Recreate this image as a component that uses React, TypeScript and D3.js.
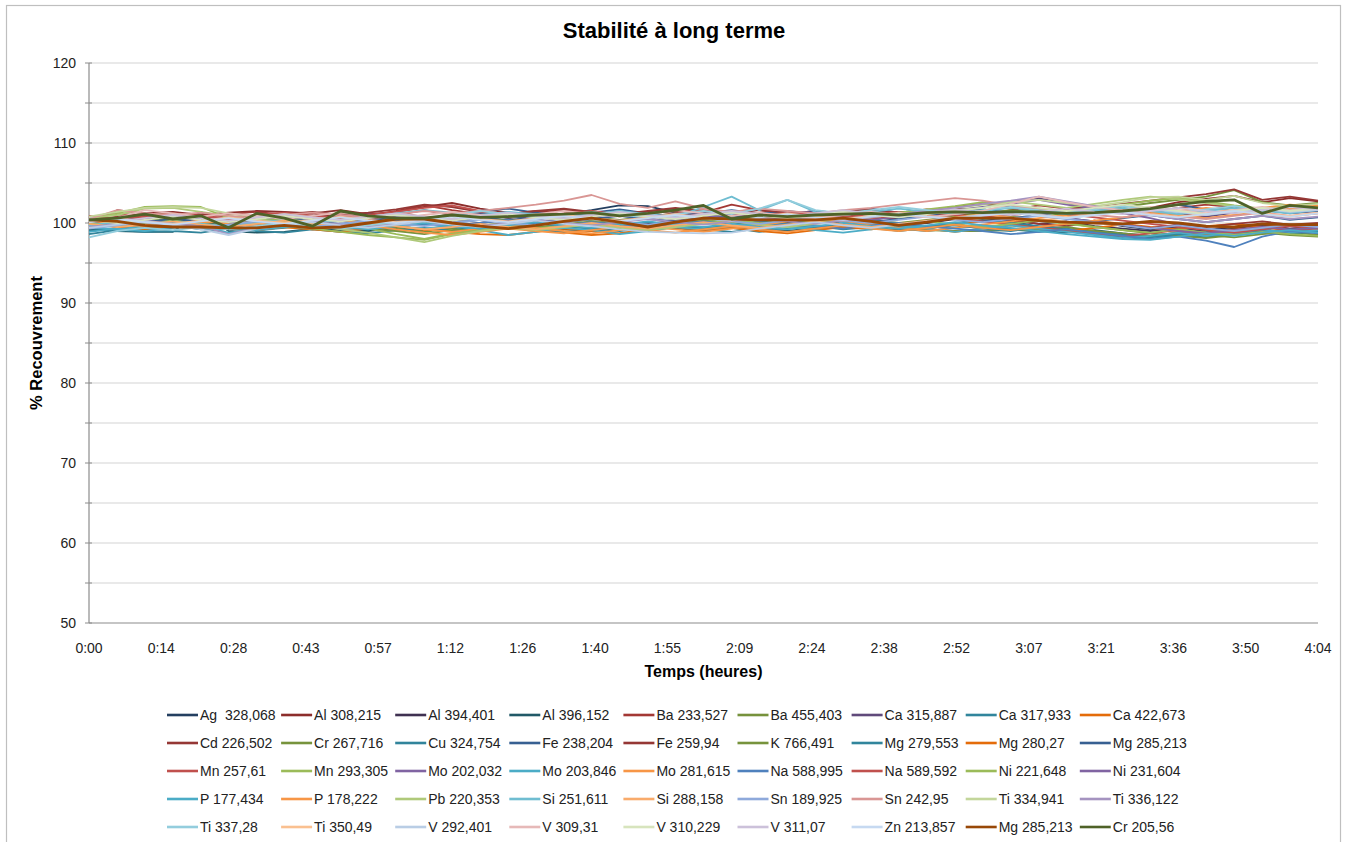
import * as d3 from "d3";
import { useEffect, useRef } from "react";

// sample times in minutes (x axis runs 0 .. 0.17 day = 244.8 min)
const times = [0, 5.6, 11.1, 16.7, 22.3, 27.8, 33.4, 38.9, 44.5, 50.1, 55.6, 61.2, 66.8, 72.3, 77.9, 83.5, 89.0, 94.6, 100.1, 105.7, 111.3, 116.8, 122.4, 128.0, 133.5, 139.1, 144.7, 150.2, 155.8, 161.3, 166.9, 172.5, 178.0, 183.6, 189.2, 194.7, 200.3, 205.9, 211.4, 217.0, 222.5, 228.1, 233.7, 239.2, 244.8];

const xTickMinutes = [0, 14.4, 28.8, 43.2, 57.6, 72, 86.4, 100.8, 115.2, 129.6, 144, 158.4, 172.8, 187.2, 201.6, 216, 230.4, 244.8];
const xTickLabels = ["0:00", "0:14", "0:28", "0:43", "0:57", "1:12", "1:26", "1:40", "1:55", "2:09", "2:24", "2:38", "2:52", "3:07", "3:21", "3:36", "3:50", "4:04"];
const yTickLabels = [50, 60, 70, 80, 90, 100, 110, 120];

const ag328 = [99.6, 100.2, 100.5, 100.1, 100.6, 100.3, 100.0, 100.4, 100.7,
  100.2, 100.5, 100.1, 99.8, 100.3, 100.6, 100.2, 100.8, 101.1,
  101.6, 102.2, 102.1, 101.3, 100.8, 101.0, 100.6, 100.9, 101.2,
  100.7, 100.4, 100.9, 101.3, 101.0, 100.6, 100.2, 99.5, 99.8,
  100.3, 99.6, 99.2, 99.5, 98.9, 99.3, 99.8, 99.6, 99.4];
const al308 = [100.0, 101.6, 101.2, 101.4, 101.0, 101.3, 101.5, 101.4, 101.2,
  101.6, 101.1, 101.4, 102.0, 102.5, 101.8, 101.3, 101.0, 101.6,
  101.3, 100.9, 101.2, 101.5, 101.0, 101.4, 101.7, 101.2, 100.9,
  101.3, 101.6, 101.1, 101.4, 101.8, 101.5, 101.0, 101.3, 101.8,
  102.1, 101.6, 101.9, 102.6, 103.0, 103.4, 102.6, 103.1, 102.7];
const al394 = [100.2, 99.8, 100.1, 99.6, 100.0, 99.7, 100.3, 99.9, 100.2,
  99.6, 99.9, 100.4, 100.1, 99.7, 100.0, 100.5, 100.2, 99.8,
  100.1, 99.6, 99.9, 100.3, 100.6, 100.2, 99.8, 100.1, 100.4,
  99.9, 100.2, 99.7, 100.0, 100.5, 100.8, 100.3, 99.9, 100.2,
  99.6, 99.3, 99.0, 99.4, 99.1, 99.5, 99.8, 99.3, 99.6];
const al396 = [99.2, 99.0, 98.9, 98.9, 101.4, 99.0, 98.8, 98.9, 99.3,
  99.1, 99.0, 99.4, 99.2, 99.0, 99.5, 99.3, 99.6, 99.2,
  99.0, 99.4, 99.7, 99.3, 99.1, 99.5, 99.2, 99.0, 99.4,
  99.6, 99.3, 99.1, 99.5, 99.8, 99.4, 99.2, 99.0, 98.8,
  99.1, 98.7, 98.4, 98.8, 98.5, 98.9, 99.2, 98.8, 99.0];
const ba233 = [100.6, 101.2, 100.9, 101.3, 100.8, 101.1, 101.4, 101.0, 100.7,
  101.2, 100.9, 101.5, 102.2, 101.6, 101.1, 100.8, 101.3, 101.7,
  101.2, 100.9, 101.4, 101.8, 101.3, 102.3, 101.6, 101.1, 101.5,
  101.2, 100.9, 101.3, 101.7, 101.4, 101.0, 101.6, 102.2, 101.8,
  101.3, 101.7, 101.4, 101.9, 102.3, 102.0, 101.6, 102.0, 101.8];
const ba455 = [100.1, 100.5, 100.9, 101.2, 100.7, 100.4, 100.8, 100.5, 100.2,
  100.6, 100.9, 100.4, 100.1, 100.5, 100.8, 100.3, 100.6, 101.0,
  100.7, 100.4, 100.8, 101.2, 100.8, 100.5, 100.9, 101.3, 100.9,
  100.6, 101.0, 101.4, 101.1, 100.8, 101.2, 101.6, 101.3, 101.0,
  101.5, 102.0, 102.5, 102.9, 103.3, 104.1, 102.6, 102.2, 102.5];
const ca315 = [100.3, 100.7, 100.4, 100.9, 100.5, 100.2, 100.6, 100.9, 100.5,
  100.8, 101.1, 100.7, 100.4, 100.9, 101.2, 100.8, 100.5, 101.0,
  101.3, 100.9, 100.6, 101.0, 101.4, 101.0, 100.7, 101.1, 101.5,
  101.1, 100.8, 101.2, 101.6, 101.3, 101.9, 102.6, 103.1, 102.4,
  101.8, 101.3, 101.6, 101.2, 100.8, 101.3, 101.7, 101.2, 101.5];
const ca317 = [99.4, 99.1, 99.3, 99.7, 99.2, 99.5, 99.1, 99.4, 99.8,
  99.3, 99.6, 99.2, 99.0, 99.5, 99.8, 99.4, 99.1, 99.6,
  99.3, 99.0, 99.4, 99.7, 99.2, 98.9, 99.3, 99.6, 99.2,
  99.5, 99.8, 99.3, 99.0, 99.4, 99.7, 99.2, 98.9, 99.3,
  98.9, 98.6, 98.3, 98.7, 98.4, 98.8, 99.1, 98.7, 98.9];
const ca422 = [100.2, 99.8, 99.5, 99.7, 99.4, 99.6, 99.9, 99.5, 99.2,
  99.6, 99.9, 99.5, 99.1, 99.4, 99.8, 99.5, 99.2, 98.8,
  98.5, 98.7, 99.2, 99.6, 99.3, 99.7, 100.1, 99.6, 99.3,
  99.7, 100.0, 99.6, 99.3, 99.8, 100.2, 99.8, 99.5, 99.9,
  100.3, 99.9, 99.5, 99.2, 99.6, 99.9, 99.5, 99.8, 99.6];
const cd226 = [100.8, 100.4, 100.9, 100.7, 101.1, 100.8, 100.3, 100.9, 101.2,
  100.6, 100.5, 101.0, 101.6, 101.0, 100.7, 101.1, 101.5, 101.0,
  100.8, 101.3, 100.9, 100.5, 101.0, 101.3, 100.8, 100.6, 100.9,
  101.2, 100.7, 100.5, 100.9, 101.2, 100.8, 100.4, 99.9, 99.6,
  100.1, 99.7, 99.4, 99.8, 99.5, 99.9, 100.2, 99.8, 100.0];
const cr267 = [99.9, 100.3, 100.0, 99.7, 100.2, 99.8, 100.1, 100.4, 100.0,
  99.6, 99.9, 99.4, 98.9, 99.3, 99.7, 100.0, 99.7, 100.1,
  100.4, 100.0, 99.7, 100.1, 100.5, 100.1, 99.8, 100.2, 100.6,
  100.2, 99.9, 99.5, 99.1, 99.0, 99.0, 99.1, 99.2, 99.5,
  99.0, 98.7, 98.4, 98.8, 98.5, 98.2, 98.6, 98.9, 98.5];
const cu324 = [98.6, 99.1, 98.9, 99.0, 98.8, 99.3, 99.0, 98.8, 99.2,
  98.9, 98.7, 99.1, 99.4, 99.0, 99.3, 99.6, 99.2, 98.9,
  99.3, 99.6, 99.2, 99.5, 99.1, 99.4, 98.9, 99.3, 99.6,
  99.2, 99.5, 99.0, 99.4, 99.7, 99.3, 99.0, 99.5, 99.1,
  98.6, 98.2, 98.0, 98.5, 98.2, 98.6, 99.0, 98.7, 98.9];
const fe238 = [100.5, 100.1, 100.4, 100.0, 100.3, 100.7, 100.3, 100.0, 100.4,
  100.8, 100.4, 100.1, 100.5, 100.9, 101.5, 101.8, 101.3, 100.9,
  101.3, 101.7, 101.2, 100.8, 101.2, 101.6, 101.2, 101.5, 101.1,
  101.4, 101.8, 101.3, 101.0, 101.4, 101.7, 101.3, 101.0, 101.5,
  101.9, 102.2, 101.8, 102.3, 101.7, 101.9, 101.4, 101.8, 101.5];
const fe259 = [100.3, 100.8, 101.0, 100.6, 100.9, 101.2, 100.8, 101.1, 101.4,
  101.0, 101.3, 101.7, 102.3, 102.0, 101.4, 101.1, 101.5, 101.8,
  101.4, 101.1, 101.5, 101.9, 101.5, 101.2, 101.6, 101.3, 101.0,
  101.4, 101.7, 101.3, 101.6, 102.0, 102.4, 102.1, 101.8, 101.5,
  101.9, 102.4, 102.8, 103.2, 103.6, 104.2, 102.9, 103.3, 102.8];
const k766 = [99.8, 100.2, 100.6, 100.3, 100.0, 100.4, 100.7, 100.3, 100.0,
  99.6, 99.3, 99.0, 98.6, 99.1, 99.5, 99.9, 99.5, 99.8,
  100.2, 99.8, 99.5, 99.9, 100.3, 100.7, 100.3, 99.9, 100.3,
  100.7, 100.4, 100.0, 100.4, 100.8, 101.2, 100.8, 100.4, 100.0,
  99.5, 99.1, 98.7, 98.4, 98.1, 98.5, 98.8, 98.5, 98.3];
const mg279 = [99.0, 99.4, 99.1, 99.5, 99.8, 99.4, 99.1, 99.5, 99.9,
  99.5, 99.2, 99.6, 99.9, 99.5, 99.2, 99.6, 100.0, 99.6,
  99.3, 99.7, 100.1, 99.7, 99.4, 99.8, 100.2, 99.8, 99.5,
  99.9, 100.3, 99.9, 99.6, 100.0, 100.4, 100.0, 99.6, 99.2,
  98.8, 98.5, 98.2, 98.6, 98.9, 98.6, 98.9, 99.2, 98.9];
const mg280 = [100.1, 99.5, 99.2, 99.5, 99.8, 99.4, 99.1, 99.5, 99.2,
  98.9, 99.3, 99.6, 99.2, 98.9, 98.6, 98.5, 98.9, 99.3,
  99.0, 98.7, 99.1, 99.5, 99.1, 99.4, 99.0, 98.7, 99.1,
  99.5, 99.2, 99.6, 99.3, 98.9, 99.3, 99.7, 99.3, 99.0,
  99.4, 99.8, 99.4, 99.0, 98.6, 99.0, 99.4, 99.1, 99.3];
const mg285 = [100.0, 100.4, 100.1, 100.5, 100.2, 99.9, 100.3, 100.6, 100.2,
  99.9, 100.3, 100.7, 100.3, 100.0, 100.4, 100.8, 100.4, 100.1,
  100.5, 100.9, 100.5, 100.2, 100.6, 101.0, 100.6, 100.3, 100.7,
  100.4, 100.1, 100.5, 100.9, 100.5, 100.2, 100.6, 101.0, 100.6,
  100.2, 100.6, 101.0, 100.5, 100.1, 100.5, 100.9, 100.4, 100.7];
const mn257 = [100.7, 101.1, 100.8, 101.2, 100.9, 100.6, 101.0, 101.3, 100.9,
  100.6, 101.0, 101.4, 101.9, 102.2, 101.5, 101.1, 100.8, 101.2,
  101.5, 101.1, 100.8, 101.2, 101.6, 101.2, 100.9, 101.3, 101.0,
  100.7, 101.1, 101.4, 101.0, 100.6, 100.2, 99.8, 99.4, 99.1,
  98.7, 98.4, 98.7, 99.1, 98.8, 99.2, 99.5, 99.1, 99.3];
const mn293 = [100.5, 101.2, 102.0, 102.1, 102.0, 100.6, 100.2, 100.5, 100.1,
  99.8, 99.3, 98.6, 98.0, 98.7, 99.2, 99.6, 99.3, 99.7,
  100.0, 99.6, 99.3, 99.7, 100.1, 100.4, 100.0, 99.7, 100.1,
  100.5, 100.9, 101.3, 101.7, 102.1, 102.6, 102.2, 101.8, 101.4,
  101.8, 102.3, 102.8, 103.1, 102.7, 102.2, 101.8, 102.2, 102.0];
const mo202 = [100.4, 100.1, 100.5, 100.8, 100.4, 100.1, 100.5, 100.9, 100.5,
  100.2, 100.6, 101.0, 100.6, 100.3, 100.7, 101.1, 100.7, 100.4,
  100.8, 101.2, 100.8, 100.5, 100.9, 100.6, 100.3, 100.7, 101.1,
  100.7, 100.4, 100.8, 101.2, 101.6, 102.0, 102.4, 102.9, 102.3,
  101.8, 101.2, 100.6, 99.8, 99.2, 98.7, 99.3, 99.8, 99.5];
const mo203 = [99.5, 99.2, 99.6, 99.9, 99.5, 98.8, 99.2, 99.6, 99.3,
  99.7, 100.0, 99.6, 99.3, 99.7, 99.1, 98.5, 98.9, 99.4,
  99.1, 98.6, 99.0, 99.5, 99.2, 99.6, 99.9, 99.5, 99.1,
  98.8, 99.2, 99.6, 99.3, 98.9, 99.3, 99.7, 99.3, 98.9,
  98.5, 98.1, 98.4, 98.8, 98.4, 98.8, 99.2, 98.8, 99.1];
const mo281 = [99.8, 100.2, 99.9, 99.6, 100.0, 100.3, 99.9, 99.6, 100.0,
  100.4, 100.0, 99.6, 99.2, 98.9, 99.3, 99.7, 99.4, 99.0,
  98.7, 99.1, 99.5, 99.2, 98.9, 99.3, 99.7, 100.2, 100.6,
  100.2, 99.8, 99.4, 99.0, 99.4, 99.8, 100.2, 100.6, 101.0,
  101.4, 101.8, 101.4, 101.0, 100.6, 101.0, 101.4, 101.8, 102.2];
const na588 = [99.6, 100.0, 99.7, 100.1, 99.8, 99.5, 99.9, 100.2, 99.8,
  99.5, 99.9, 100.3, 99.9, 99.6, 100.0, 100.4, 100.0, 99.7,
  100.1, 99.8, 99.5, 99.9, 100.2, 99.8, 99.5, 99.9, 99.6,
  99.3, 99.7, 100.0, 99.6, 99.3, 99.0, 98.6, 98.9, 99.2,
  98.8, 98.4, 98.0, 98.3, 97.8, 97.0, 98.3, 99.0, 98.7];
const na589 = [100.9, 100.5, 100.8, 101.2, 100.8, 100.4, 100.7, 101.1, 100.7,
  100.4, 100.8, 101.2, 100.8, 100.5, 100.9, 101.3, 100.9, 100.6,
  101.0, 101.4, 101.0, 100.7, 101.1, 101.5, 101.1, 100.8, 101.2,
  100.9, 100.6, 101.0, 101.4, 101.0, 100.7, 101.1, 101.5, 101.1,
  100.7, 100.3, 99.9, 99.5, 99.1, 98.8, 99.2, 99.6, 99.3];
const ni221 = [100.0, 99.6, 99.9, 100.3, 99.9, 99.6, 100.0, 99.7, 99.3,
  98.9, 98.5, 98.2, 97.9, 98.6, 99.1, 99.5, 99.2, 99.6,
  99.9, 99.5, 99.2, 99.6, 100.0, 99.7, 99.3, 99.7, 100.1,
  99.8, 99.4, 99.8, 100.2, 99.8, 99.5, 99.9, 100.3, 99.9,
  99.5, 99.1, 98.8, 99.2, 98.8, 98.5, 98.9, 98.6, 98.4];
const ni231 = [100.2, 100.6, 100.3, 99.9, 100.3, 100.7, 100.3, 100.0, 100.4,
  100.8, 100.4, 100.1, 100.5, 100.9, 100.5, 100.2, 100.6, 101.0,
  100.6, 100.3, 100.7, 101.1, 100.7, 100.4, 100.8, 101.2, 100.8,
  100.5, 100.9, 101.3, 100.9, 100.6, 101.0, 101.4, 101.0, 100.6,
  100.2, 99.8, 99.4, 99.0, 98.7, 99.1, 99.5, 99.2, 99.4];
const p177 = [98.9, 99.3, 99.0, 99.4, 99.8, 99.4, 99.1, 99.5, 99.9,
  99.5, 99.2, 99.6, 100.0, 99.6, 99.3, 99.7, 100.1, 99.7,
  99.4, 99.8, 100.2, 99.8, 99.5, 99.9, 99.5, 99.2, 99.6,
  100.0, 99.6, 99.3, 99.7, 100.1, 99.7, 99.4, 99.0, 98.6,
  98.3, 98.0, 97.9, 98.3, 98.7, 98.4, 98.8, 99.1, 98.8];
const p178 = [100.3, 99.9, 99.6, 99.9, 100.3, 99.9, 99.6, 100.0, 99.6,
  99.3, 99.7, 99.2, 98.8, 98.5, 98.9, 99.3, 99.0, 98.7,
  99.1, 99.5, 99.1, 98.8, 99.2, 99.6, 99.2, 98.9, 99.3,
  99.7, 99.3, 99.0, 99.4, 99.8, 99.4, 99.1, 99.5, 99.9,
  100.3, 100.7, 101.1, 101.5, 101.9, 101.5, 101.9, 102.3, 102.0];
const pb220 = [100.6, 101.0, 101.8, 101.9, 101.4, 100.9, 100.5, 100.1, 99.7,
  99.2, 98.8, 98.2, 97.6, 98.4, 99.0, 99.4, 99.1, 99.5,
  99.8, 99.4, 99.1, 99.5, 99.9, 100.2, 99.8, 99.5, 99.9,
  100.3, 100.7, 101.1, 101.5, 101.9, 102.3, 102.7, 102.3, 101.9,
  102.4, 102.9, 103.3, 103.0, 102.5, 102.1, 101.7, 102.1, 101.8];
const si251 = [99.7, 100.1, 99.8, 100.2, 99.9, 99.6, 100.0, 100.4, 100.0,
  100.4, 100.8, 101.2, 101.6, 101.3, 101.0, 101.4, 101.1, 100.7,
  101.1, 101.5, 101.1, 100.8, 102.0, 103.3, 101.6, 102.9, 101.4,
  101.0, 101.4, 101.8, 101.4, 101.1, 101.5, 101.9, 101.5, 101.1,
  101.5, 101.9, 101.5, 101.1, 101.5, 101.9, 101.5, 101.2, 101.6];
const si288 = [99.9, 99.5, 99.8, 100.2, 99.8, 99.5, 99.9, 100.3, 99.9,
  99.6, 100.0, 99.6, 99.2, 99.5, 99.9, 99.5, 99.2, 99.6,
  100.0, 99.6, 99.3, 99.7, 100.1, 99.7, 99.4, 99.8, 100.2,
  99.8, 99.5, 99.9, 100.3, 100.7, 101.1, 100.7, 100.3, 100.7,
  101.1, 101.5, 101.1, 100.7, 101.1, 101.5, 101.1, 100.8, 101.2];
const sn189 = [99.3, 99.7, 100.1, 99.7, 99.4, 99.8, 100.2, 99.8, 99.5,
  99.9, 100.3, 99.9, 99.6, 100.0, 100.4, 100.0, 99.7, 100.1,
  100.5, 100.1, 99.8, 100.2, 100.6, 100.2, 99.9, 100.3, 100.7,
  100.3, 100.0, 100.4, 100.8, 100.4, 100.1, 100.5, 100.9, 100.5,
  100.1, 99.7, 99.3, 99.7, 99.3, 99.0, 99.4, 99.8, 99.5];
const sn242 = [100.5, 101.6, 101.2, 101.0, 101.3, 100.9, 100.6, 101.0, 101.3,
  101.0, 100.7, 101.1, 101.5, 101.2, 101.5, 101.9, 102.3, 102.8,
  103.5, 102.4, 101.9, 102.7, 101.8, 101.4, 101.8, 101.5, 101.2,
  101.6, 101.9, 102.3, 102.7, 103.1, 102.8, 102.2, 101.7, 101.3,
  101.0, 100.7, 101.1, 100.8, 100.5, 100.9, 101.3, 100.9, 101.2];
const ti334 = [100.8, 101.4, 101.9, 102.0, 101.9, 101.2, 100.8, 101.1, 100.7,
  100.4, 100.8, 101.1, 100.7, 100.4, 100.8, 101.2, 100.8, 100.5,
  100.9, 101.3, 100.9, 100.6, 101.0, 101.4, 101.0, 100.7, 101.1,
  101.5, 101.1, 100.8, 101.2, 101.6, 101.9, 102.6, 102.9, 102.5,
  102.1, 102.6, 103.2, 103.3, 102.9, 103.4, 102.5, 102.1, 102.4];
const ti336 = [99.5, 99.9, 100.3, 99.9, 99.6, 98.6, 99.4, 99.8, 100.2,
  99.8, 99.5, 99.9, 100.3, 99.9, 99.6, 100.0, 100.4, 100.0,
  99.7, 100.1, 100.5, 100.1, 99.8, 100.2, 100.6, 100.2, 99.9,
  100.3, 100.7, 101.1, 101.5, 101.9, 102.4, 102.8, 103.3, 102.7,
  102.1, 101.5, 101.0, 100.5, 100.1, 100.5, 100.9, 100.5, 100.8];
const ti337 = [98.2, 99.0, 99.4, 99.1, 99.5, 99.2, 99.6, 100.0, 99.6,
  99.3, 99.7, 100.1, 100.5, 101.0, 101.5, 101.1, 100.7, 101.0,
  101.4, 101.0, 100.7, 101.1, 101.5, 101.1, 101.8, 102.9, 101.6,
  101.2, 101.6, 102.0, 101.6, 101.2, 101.6, 102.0, 101.6, 101.3,
  101.7, 102.1, 101.7, 101.3, 101.7, 102.1, 101.7, 101.4, 101.8];
const ti350 = [100.2, 100.6, 100.2, 99.9, 100.3, 100.7, 100.3, 100.0, 100.4,
  100.8, 100.4, 100.1, 100.5, 100.9, 100.5, 100.2, 100.6, 101.0,
  100.6, 100.3, 100.7, 101.1, 100.7, 100.4, 100.8, 101.2, 100.8,
  100.5, 100.9, 101.3, 100.9, 100.6, 101.0, 101.4, 101.0, 100.7,
  101.1, 101.5, 101.1, 100.8, 101.2, 101.6, 101.2, 100.9, 101.3];
const v292 = [99.4, 99.8, 100.2, 99.8, 99.2, 98.5, 99.3, 99.7, 100.1,
  99.7, 99.4, 99.8, 100.2, 99.8, 99.5, 99.9, 100.3, 99.9,
  99.6, 99.2, 98.9, 98.8, 98.7, 98.8, 99.3, 99.7, 100.1,
  99.7, 99.4, 99.8, 100.2, 100.6, 101.0, 101.4, 101.0, 100.6,
  101.0, 101.4, 101.8, 101.4, 101.0, 101.4, 101.8, 101.4, 101.6];
const v309 = [100.1, 100.6, 101.6, 101.2, 100.8, 101.2, 100.9, 100.5, 100.9,
  101.3, 100.9, 100.6, 101.0, 101.4, 101.0, 100.7, 101.1, 101.5,
  101.1, 100.8, 101.2, 101.6, 101.2, 100.9, 101.3, 100.9, 100.6,
  101.0, 101.4, 101.0, 100.7, 101.1, 101.5, 102.4, 103.3, 102.6,
  102.0, 101.6, 102.0, 101.6, 101.2, 101.6, 102.0, 101.6, 101.9];
const v310 = [100.4, 100.0, 100.4, 100.8, 100.4, 100.1, 100.5, 100.9, 100.5,
  100.2, 100.6, 101.0, 100.6, 100.3, 100.7, 101.1, 100.7, 100.4,
  100.8, 101.2, 100.8, 100.5, 100.9, 101.3, 100.9, 100.6, 101.0,
  101.4, 101.0, 100.7, 101.1, 101.5, 101.9, 102.3, 101.9, 101.5,
  101.9, 102.3, 101.9, 101.5, 101.1, 101.5, 101.9, 101.5, 101.8];
const v311 = [100.6, 100.2, 100.6, 101.0, 100.6, 100.3, 100.7, 101.1, 100.7,
  100.4, 100.8, 101.2, 100.8, 100.5, 100.9, 101.3, 100.9, 100.6,
  101.0, 101.4, 101.0, 100.7, 101.1, 101.5, 101.1, 100.8, 101.2,
  101.6, 101.2, 100.9, 101.3, 101.7, 101.3, 101.0, 101.4, 101.8,
  101.4, 101.1, 101.5, 101.9, 101.5, 101.2, 101.6, 102.0, 101.7];
const zn213 = [100.1, 100.5, 100.1, 99.8, 100.2, 100.6, 100.2, 99.9, 100.3,
  100.7, 100.3, 100.0, 100.4, 100.8, 100.4, 100.1, 100.5, 100.9,
  100.5, 100.2, 100.6, 101.0, 100.6, 100.3, 100.7, 101.1, 100.7,
  100.4, 100.8, 101.2, 100.8, 100.5, 100.9, 101.3, 100.9, 100.6,
  101.0, 101.4, 101.0, 100.7, 101.1, 101.5, 101.1, 100.8, 101.2];
const mg285b = [100.4, 100.2, 99.7, 99.5, 99.5, 99.4, 99.4, 99.7, 99.4,
  99.5, 100.0, 100.5, 100.5, 100.0, 99.6, 99.3, 99.7, 100.2,
  100.6, 100.1, 99.5, 100.1, 100.6, 100.5, 100.4, 100.4, 100.4,
  100.6, 100.2, 99.7, 100.1, 100.6, 100.6, 100.6, 100.3, 100.1,
  100.0, 99.9, 100.2, 100.0, 99.6, 99.5, 99.9, 99.8, 99.8];
const cr205 = [100.4, 100.6, 101.1, 100.5, 100.9, 99.4, 101.2, 100.6, 99.6,
  101.5, 100.9, 100.6, 100.6, 101.0, 100.7, 100.8, 101.0, 101.1,
  101.3, 100.9, 101.2, 101.6, 102.2, 100.5, 101.0, 100.8, 101.0,
  101.1, 101.2, 101.0, 101.3, 101.4, 101.3, 101.4, 101.4, 101.2,
  101.3, 101.5, 101.8, 102.3, 102.7, 102.9, 101.2, 102.2, 101.9];

const seriesNames = [
  "Ag  328,068", "Al 308,215", "Al 394,401", "Al 396,152", "Ba 233,527", "Ba 455,403", "Ca 315,887", "Ca 317,933", "Ca 422,673",
  "Cd 226,502", "Cr 267,716", "Cu 324,754", "Fe 238,204", "Fe 259,94", "K 766,491", "Mg 279,553", "Mg 280,27", "Mg 285,213",
  "Mn 257,61", "Mn 293,305", "Mo 202,032", "Mo 203,846", "Mo 281,615", "Na 588,995", "Na 589,592", "Ni 221,648", "Ni 231,604",
  "P 177,434", "P 178,222", "Pb 220,353", "Si 251,611", "Si 288,158", "Sn 189,925", "Sn 242,95", "Ti 334,941", "Ti 336,122",
  "Ti 337,28", "Ti 350,49", "V 292,401", "V 309,31", "V 310,229", "V 311,07", "Zn 213,857", "Mg 285,213", "Cr 205,56",
];
const seriesValues = [
  ag328, al308, al394, al396, ba233, ba455, ca315, ca317, ca422,
  cd226, cr267, cu324, fe238, fe259, k766, mg279, mg280, mg285,
  mn257, mn293, mo202, mo203, mo281, na588, na589, ni221, ni231,
  p177, p178, pb220, si251, si288, sn189, sn242, ti334, ti336,
  ti337, ti350, v292, v309, v310, v311, zn213, mg285b, cr205,
];

const colors = [
  "#243F60", "#8C2D2B", "#3F3151", "#215967", "#A33834", "#76923C", "#604A7B", "#31859C", "#E46C0A",
  "#953735", "#77933C", "#31849B", "#376092", "#953735", "#77933C", "#31859C", "#E46C0A", "#376092",
  "#C0504D", "#9BBB59", "#8064A2", "#4BACC6", "#F79646", "#4F81BD", "#C0504D", "#9BBB59", "#8064A2",
  "#4BACC6", "#F79646", "#AFC97A", "#6FBDD1", "#F9AB6B", "#8EA9DB", "#D99694", "#C3D69B", "#A593C0",
  "#93CDDD", "#FAC090", "#B9CDE5", "#E6B9B8", "#D7E4BD", "#CCC1DA", "#C6D9F1", "#984807", "#4F6228",
];

const font = "'Liberation Sans', Arial, sans-serif";

const App = () => {
  const width = 1346;
  const height = 842;
  const plot = { left: 89, right: 1318, top: 63, bottom: 623 };
  const svgRef = useRef(null);

  useEffect(() => {
    document.body.style.margin = "0";
    const svg = d3.select(svgRef.current);
    svg.selectAll("*").remove();

    const x = d3.scaleLinear([0, 244.8], [plot.left, plot.right]);
    const y = d3.scaleLinear([50, 120], [plot.bottom, plot.top]);

    svg.append("rect").attr("width", width).attr("height", height).attr("fill", "white");
    svg
      .append("rect")
      .attr("x", 6.5)
      .attr("y", 5.5)
      .attr("width", 1334)
      .attr("height", 900)
      .attr("fill", "none")
      .attr("stroke", "#BFBFBF")
      .attr("stroke-width", 1.2);

    svg
      .append("text")
      .attr("x", 674)
      .attr("y", 38)
      .attr("text-anchor", "middle")
      .attr("font-family", font)
      .attr("font-weight", "bold")
      .attr("font-size", 22)
      .text("Stabilité à long terme");

    const minorTicks = y.ticks(14);

    // gridlines every 5
    svg
      .append("g")
      .selectAll("line")
      .data(minorTicks.filter((v) => v > 50))
      .join("line")
      .attr("x1", plot.left)
      .attr("x2", plot.right)
      .attr("y1", (v) => y(v))
      .attr("y2", (v) => y(v))
      .attr("stroke", "#D4D4D4")
      .attr("stroke-width", 1.2);

    // y axis line + crossing ticks
    svg
      .append("line")
      .attr("x1", plot.left)
      .attr("x2", plot.left)
      .attr("y1", plot.top)
      .attr("y2", plot.bottom)
      .attr("stroke", "#8C8C8C")
      .attr("stroke-width", 1.2);
    svg
      .append("g")
      .selectAll("line")
      .data(minorTicks)
      .join("line")
      .attr("x1", plot.left - 4)
      .attr("x2", plot.left + 3)
      .attr("y1", (v) => y(v))
      .attr("y2", (v) => y(v))
      .attr("stroke", "#8C8C8C");

    svg
      .append("g")
      .selectAll("text")
      .data(yTickLabels)
      .join("text")
      .attr("x", 76)
      .attr("y", (v) => y(v) + 5)
      .attr("text-anchor", "end")
      .attr("font-family", font)
      .attr("font-size", 14)
      .attr("fill", "#222")
      .text((v) => v);

    // x axis
    svg
      .append("line")
      .attr("x1", plot.left)
      .attr("x2", plot.right)
      .attr("y1", plot.bottom)
      .attr("y2", plot.bottom)
      .attr("stroke", "#8C8C8C")
      .attr("stroke-width", 1.2);

    svg
      .append("g")
      .selectAll("text")
      .data(xTickMinutes)
      .join("text")
      .attr("x", (v) => x(v))
      .attr("y", 653)
      .attr("text-anchor", "middle")
      .attr("font-family", font)
      .attr("font-size", 14)
      .attr("fill", "#222")
      .text((v, i) => xTickLabels[i]);

    svg
      .append("text")
      .attr("x", (plot.left + plot.right) / 2)
      .attr("y", 677)
      .attr("text-anchor", "middle")
      .attr("font-family", font)
      .attr("font-weight", "bold")
      .attr("font-size", 16)
      .text("Temps (heures)");

    svg
      .append("text")
      .attr("transform", `translate(42, ${(plot.top + plot.bottom) / 2}) rotate(-90)`)
      .attr("text-anchor", "middle")
      .attr("font-family", font)
      .attr("font-weight", "bold")
      .attr("font-size", 16.5)
      .text("% Recouvrement");

    // series, drawn in legend order (last on top)
    const line = d3
      .line()
      .x((d, i) => x(times[i]))
      .y((d) => y(d));

    svg
      .append("g")
      .selectAll("path")
      .data(seriesValues)
      .join("path")
      .attr("d", (vals) => line(vals))
      .attr("fill", "none")
      .attr("stroke", (vals, i) => colors[i])
      .attr("stroke-width", (vals, i) => (i >= 43 ? 2.8 : 1.8))
      .attr("stroke-linejoin", "round");

    // legend: 5 rows of 9
    const legend = svg.append("g");
    seriesNames.forEach((name, i) => {
      const col = i % 9;
      const row = Math.floor(i / 9);
      const tx = 200 + col * 114.1;
      const ty = 715 + row * 28;
      legend
        .append("line")
        .attr("x1", tx - 33)
        .attr("x2", tx - 2)
        .attr("y1", ty)
        .attr("y2", ty)
        .attr("stroke", colors[i])
        .attr("stroke-width", 2.6);
      legend
        .append("text")
        .attr("x", tx)
        .attr("y", ty + 5)
        .attr("font-family", font)
        .attr("font-size", 14)
        .attr("fill", "#222")
        .style("white-space", "pre")
        .text(name);
    });
  }, []);

  return (
    <svg
      width={width}
      height={height}
      ref={svgRef}
      style={{ display: "block", position: "absolute", left: 0, top: 0 }}
    ></svg>
  );
};

export default App;
